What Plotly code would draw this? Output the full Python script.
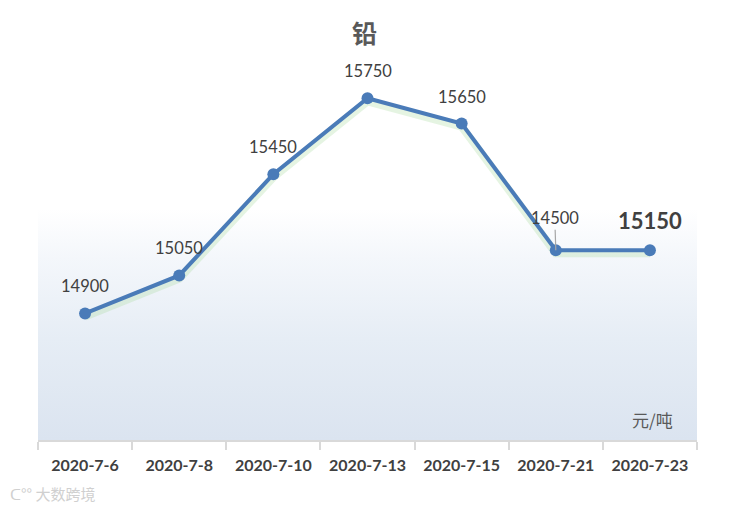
import plotly.graph_objects as go

dates = ["2020-7-6", "2020-7-8", "2020-7-10", "2020-7-13", "2020-7-15", "2020-7-21", "2020-7-23"]
prices = [14900, 15050, 15450, 15750, 15650, 15150, 15150]
labels = ["14900", "15050", "15450", "15750", "15650", "14500", "15150"]
title_text = "铅"
unit_text = "元/吨"
watermark = "大数跨境"

y_range = [14400, 16000]
font_num = "Lato, 'Noto Sans CJK SC', sans-serif"
cjk = "'Noto Sans CJK SC', sans-serif"

fig = go.Figure()

# gradient background panel (on hidden numeric axis x)
fig.add_trace(go.Scatter(
    x=[-0.5, 6.5, 6.5, -0.5, -0.5], y=[y_range[0], y_range[0], y_range[1], y_range[1], y_range[0]],
    xaxis="x", yaxis="y", mode="lines", line=dict(width=0), fill="toself",
    fillgradient=dict(type="vertical", colorscale=[[0, "#dbe4f0"], [0.25, "#e6edf5"], [0.45, "#f4f7fb"], [0.57, "#ffffff"], [1, "#ffffff"]]),
    hoverinfo="skip", showlegend=False))

# soft green glow under the line
fig.add_trace(go.Scatter(
    x=dates, y=[v - 12 for v in prices], xaxis="x2", yaxis="y", mode="lines",
    line=dict(color="rgba(170,220,160,0.3)", width=8),
    hoverinfo="skip", showlegend=False))

fig.add_trace(go.Scatter(
    x=dates, y=prices, xaxis="x2", yaxis="y", mode="lines+markers",
    line=dict(color="#4a7bb8", width=4),
    marker=dict(color="#4a7bb8", size=12),
    showlegend=False))

annotations = []
for i, (d, v, t) in enumerate(zip(dates, prices, labels)):
    if i == len(dates) - 1:
        annotations.append(dict(xref="x2", yref="y", x=d, y=v, text="<b>" + t + "</b>", showarrow=False,
                                yshift=30, xshift=0,
                                font=dict(size=22, color="#404040", family=font_num)))
    elif t != str(v):
        annotations.append(dict(xref="x2", yref="y", x=d, y=v, text=t, showarrow=True, ax=-1, ay=-32,
                                arrowhead=0, arrowwidth=1.2, arrowcolor="#a6a6a6", standoff=0,
                                font=dict(size=16.5, color="#404040", family=font_num)))
    else:
        annotations.append(dict(xref="x2", yref="y", x=d, y=v, text=t, showarrow=False, yshift=27,
                                font=dict(size=16.5, color="#404040", family=font_num)))

annotations.append(dict(xref="paper", yref="paper", x=0.5, y=1, xanchor="center", yanchor="bottom",
                        text="<b>" + title_text + "</b>", showarrow=False, yshift=-17, xshift=-3,
                        font=dict(size=25, color="#595959", family=cjk)))
annotations.append(dict(xref="paper", yref="paper", x=0.933, y=0, xanchor="center", yanchor="bottom",
                        text=unit_text, showarrow=False, yshift=6,
                        font=dict(size=17, color="#595959", family=cjk)))
annotations.append(dict(xref="paper", yref="paper", x=-0.046, y=0, xanchor="left", yanchor="top",
                        text="ᑕ°° " + watermark, showarrow=False, yshift=-41,
                        font=dict(size=15, color="#d0d0d0", family=cjk)))

fig.update_layout(
    width=729, height=507,
    margin=dict(l=30, r=40, t=27, b=75),
    paper_bgcolor="white", plot_bgcolor="rgba(0,0,0,0)",
    xaxis=dict(range=[-0.5, 6.5], visible=False),
    xaxis2=dict(type="category", range=[-0.5, 6.5], overlaying="x", anchor="y", side="bottom",
                showgrid=False, zeroline=False,
                showline=True, linecolor="#d9d9d9", linewidth=2,
                ticks="outside", tickson="boundaries", ticklen=8, tickcolor="#d9d9d9", tickwidth=1.5,
                ticklabelstandoff=10,
                tickfont=dict(size=16, color="#404040", family="Lato, sans-serif", weight="bold")),
    yaxis=dict(range=y_range, visible=False),
    annotations=annotations,
)

fig.write_html("out.html")
